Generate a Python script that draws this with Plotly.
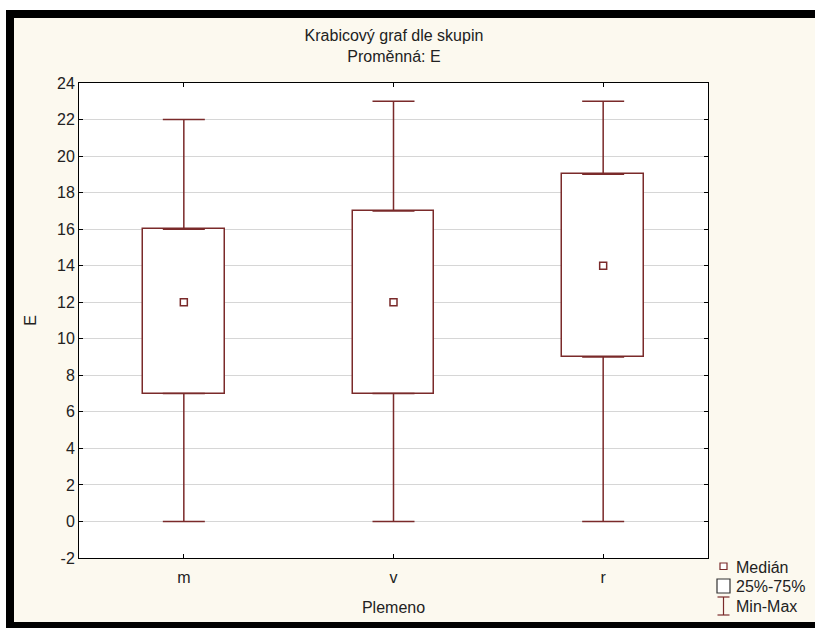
import plotly.graph_objects as go

# ── data ──
groups = ["m", "v", "r"]
mins = [0, 0, 0]
q1 = [7, 7, 9]
medians = [12, 12, 14]
q3 = [16, 17, 19]
maxs = [22, 23, 23]

y_ticks = [-2, 0, 2, 4, 6, 8, 10, 12, 14, 16, 18, 20, 22, 24]
y_ticktext = ["-2", "0", "2", "4", "6", "8", "10", "12", "14", "16", "18", "20", "22", "24"]

title_lines = ["Krabicový graf dle skupin", "Proměnná: E"]
x_title = "Plemeno"
y_title = "E"
legend_labels = ["Medián", "25%-75%", "Min-Max"]

MAROON = "#7a2a2a"
CREAM = "#fcf9ef"
TEXT = "#222222"
FONT = "Liberation Sans, Arial, sans-serif"

W, H = 815, 628
L, R, T, B = 79, 708, 83, 558  # plot area in pixels


def px_x(px):
    return (px - L) / (R - L)


def px_y(py):
    return (B - py) / (B - T)


fig = go.Figure()

# box body: q1 -> q3
fig.add_trace(
    go.Bar(
        x=groups,
        y=[b - a for a, b in zip(q1, q3)],
        base=q1,
        width=[0.39] * len(groups),
        marker=dict(color="white", line=dict(color=MAROON, width=1.5)),
        name=legend_labels[1],
        showlegend=False,
        hoverinfo="skip",
    )
)

# whiskers: q3 -> max and q1 -> min
fig.add_trace(
    go.Scatter(
        x=groups,
        y=q3,
        mode="markers",
        marker=dict(size=1, color="rgba(0,0,0,0)"),
        error_y=dict(
            type="data", symmetric=False,
            array=[b - a for a, b in zip(q3, maxs)],
            arrayminus=[0] * len(groups),
            width=21, thickness=1.5, color=MAROON,
        ),
        showlegend=False,
        hoverinfo="skip",
    )
)
fig.add_trace(
    go.Scatter(
        x=groups,
        y=q1,
        mode="markers",
        marker=dict(size=1, color="rgba(0,0,0,0)"),
        error_y=dict(
            type="data", symmetric=False,
            array=[0] * len(groups),
            arrayminus=[a - b for a, b in zip(q1, mins)],
            width=21, thickness=1.5, color=MAROON,
        ),
        showlegend=False,
        hoverinfo="skip",
    )
)

# median markers
fig.add_trace(
    go.Scatter(
        x=groups,
        y=medians,
        mode="markers",
        marker=dict(symbol="square", size=7, color="white", line=dict(color=MAROON, width=1.5)),
        name=legend_labels[0],
        showlegend=False,
    )
)

# page frame: white strip, thick black border on top/left/bottom
fig.add_shape(type="rect", xref="paper", yref="paper",
              x0=px_x(10), x1=px_x(830), y0=px_y(14), y1=px_y(626),
              line=dict(color="black", width=8), fillcolor="rgba(0,0,0,0)", layer="above")
fig.add_shape(type="rect", xref="paper", yref="paper",
              x0=px_x(-5), x1=px_x(6), y0=px_y(-5), y1=px_y(640),
              line=dict(width=0), fillcolor="white", layer="above")
fig.add_shape(type="rect", xref="paper", yref="paper",
              x0=px_x(-5), x1=px_x(830), y0=px_y(-5), y1=px_y(10),
              line=dict(width=0), fillcolor="white", layer="above")

# hand-drawn legend (bottom right, outside the plot)
sym_x = 723.5
row_y = [567, 586, 606]
fig.add_shape(type="rect", xref="paper", yref="paper",
              x0=px_x(sym_x - 3.5), x1=px_x(sym_x + 3.5),
              y0=px_y(row_y[0] + 2.5), y1=px_y(row_y[0] - 4),
              line=dict(color=MAROON, width=1.2), fillcolor="white")
fig.add_shape(type="rect", xref="paper", yref="paper",
              x0=px_x(sym_x - 6.5), x1=px_x(sym_x + 6.5),
              y0=px_y(row_y[1] + 7), y1=px_y(row_y[1] - 7),
              line=dict(color="#333333", width=1.2), fillcolor="white")
for seg in [(sym_x, 597, sym_x, 615), (sym_x - 6, 597, sym_x + 6, 597), (sym_x - 6, 615, sym_x + 6, 615)]:
    fig.add_shape(type="line", xref="paper", yref="paper",
                  x0=px_x(seg[0]), y0=px_y(seg[1]), x1=px_x(seg[2]), y1=px_y(seg[3]),
                  line=dict(color=MAROON, width=1.2))
for label, yy in zip(legend_labels, row_y):
    fig.add_annotation(text=label, xref="paper", yref="paper",
                       x=px_x(734), y=px_y(yy), xanchor="left", yanchor="middle",
                       showarrow=False, font=dict(size=16, color=TEXT))

fig.update_layout(
    width=W,
    height=H,
    margin=dict(l=L, r=W - R, t=T, b=H - B, pad=0),
    paper_bgcolor=CREAM,
    plot_bgcolor="white",
    font=dict(family=FONT, size=16, color=TEXT),
    title=dict(
        text="<br>".join(title_lines),
        x=px_x(394), xanchor="center", xref="paper",
        y=1 - 41 / H, yanchor="top",
        font=dict(size=16, color=TEXT),
    ),
    showlegend=False,
    bargap=0,
    hovermode=False,
)

fig.update_xaxes(
    range=[-0.5, 2.5],
    showgrid=False,
    showline=True, linecolor="black", linewidth=1, mirror="ticks",
    ticks="inside", ticklen=4, tickcolor="black",
    ticklabelstandoff=5,
    title=dict(text=x_title, standoff=16, font=dict(size=16, color=TEXT)),
    zeroline=False,
)
fig.update_yaxes(
    range=[-2, 24],
    tickvals=y_ticks,
    ticktext=y_ticktext,
    showgrid=True, gridcolor="#d6d6d6", gridwidth=1,
    showline=True, linecolor="black", linewidth=1, mirror="ticks",
    ticks="inside", ticklen=4, tickcolor="black",
    title=dict(text=y_title, standoff=16, font=dict(size=16, color=TEXT)),
    zeroline=False,
)

fig.write_html("out.html", config={"displayModeBar": False},
               post_script="document.body.style.margin='0';")
